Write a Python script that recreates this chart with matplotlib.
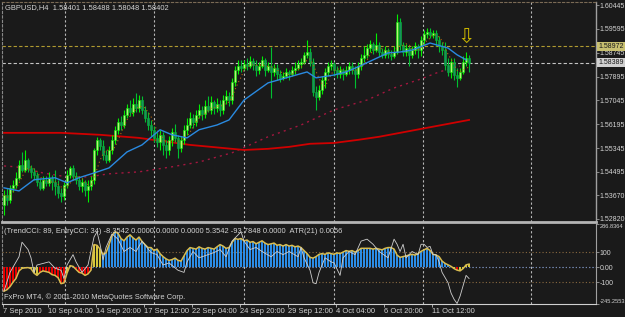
import matplotlib
matplotlib.use("Agg")
import matplotlib.pyplot as plt
import matplotlib.transforms as mtransforms
import numpy as np
import pandas as pd

plt.rcParams['font.family'] = ['Liberation Sans', 'DejaVu Sans']

# ---------------- data ----------------
header_text = "GBPUSD,H4  1.58401 1.58488 1.58048 1.58402"
indicator_text = "(TrendCCI: 89, EntryCCI: 34) -8.3542 0.0000 0.0000 0.0000 5.3542 -93.7848 0.0000  ATR(21) 0.0056"
copyright_text = "FxPro MT4, \u00a9 2001-2010 MetaQuotes Software Corp."

opens = [
    1.5332, 1.5368, 1.5350, 1.5393, 1.5404, 1.5429, 1.5475, 1.5457, 1.5492, 1.5464,
    1.5450, 1.5439, 1.5414, 1.5393, 1.5422, 1.5411, 1.5429, 1.5414, 1.5400, 1.5375,
    1.5365, 1.5404, 1.5439, 1.5464, 1.5436, 1.5422, 1.5400, 1.5414, 1.5386, 1.5400,
    1.5422, 1.5528, 1.5564, 1.5542, 1.5510, 1.5492, 1.5528, 1.5564, 1.5600, 1.5628,
    1.5617, 1.5653, 1.5678, 1.5664, 1.5692, 1.5678, 1.5706, 1.5671, 1.5642, 1.5617,
    1.5600, 1.5571, 1.5557, 1.5582, 1.5546, 1.5528, 1.5564, 1.5592, 1.5571, 1.5535,
    1.5564, 1.5600, 1.5617, 1.5642, 1.5628, 1.5653, 1.5671, 1.5656, 1.5685, 1.5671,
    1.5699, 1.5678, 1.5692, 1.5671, 1.5706, 1.5720, 1.5706, 1.5770, 1.5813, 1.5827,
    1.5820, 1.5834, 1.5827, 1.5845, 1.5831, 1.5813, 1.5827, 1.5849, 1.5813, 1.5827,
    1.5806, 1.5820, 1.5799, 1.5785, 1.5792, 1.5806, 1.5799, 1.5813, 1.5820, 1.5834,
    1.5842, 1.5867, 1.5877, 1.5842, 1.5735, 1.5717, 1.5742, 1.5777, 1.5806, 1.5827,
    1.5834, 1.5813, 1.5799, 1.5813, 1.5799, 1.5813, 1.5827, 1.5813, 1.5799, 1.5827,
    1.5856, 1.5867, 1.5891, 1.5906, 1.5884, 1.5902, 1.5877, 1.5867, 1.5884, 1.5870,
    1.5863, 1.5877, 1.5984, 1.5902, 1.5877, 1.5891, 1.5867, 1.5884, 1.5899, 1.5884,
    1.5920, 1.5941, 1.5948, 1.5938, 1.5945, 1.5920, 1.5899, 1.5884, 1.5831, 1.5806,
    1.5842, 1.5795, 1.5785, 1.5806, 1.5842, 1.5856,
]
highs = [
    1.5386, 1.5393, 1.5404, 1.5422, 1.5450, 1.5492, 1.5521, 1.5528, 1.5499, 1.5475,
    1.5464, 1.5450, 1.5429, 1.5436, 1.5436, 1.5450, 1.5439, 1.5457, 1.5422, 1.5393,
    1.5414, 1.5457, 1.5471, 1.5475, 1.5450, 1.5436, 1.5429, 1.5422, 1.5422, 1.5436,
    1.5535, 1.5575, 1.5571, 1.5564, 1.5528, 1.5542, 1.5582, 1.5614, 1.5642, 1.5649,
    1.5671, 1.5692, 1.5706, 1.5713, 1.5731, 1.5724, 1.5720, 1.5685, 1.5664, 1.5635,
    1.5614, 1.5592, 1.5600, 1.5592, 1.5564, 1.5578, 1.5607, 1.5621, 1.5582, 1.5578,
    1.5617, 1.5642, 1.5664, 1.5656, 1.5671, 1.5692, 1.5685, 1.5706, 1.5720, 1.5720,
    1.5706, 1.5713, 1.5706, 1.5724, 1.5742, 1.5735, 1.5785, 1.5827, 1.5849, 1.5849,
    1.5849, 1.5856, 1.5863, 1.5856, 1.5849, 1.5842, 1.5863, 1.5856, 1.5842, 1.5895,
    1.5834, 1.5834, 1.5813, 1.5806, 1.5820, 1.5813, 1.5827, 1.5842, 1.5849, 1.5856,
    1.5877, 1.5920, 1.5891, 1.5856, 1.5756, 1.5760, 1.5792, 1.5820, 1.5842, 1.5849,
    1.5842, 1.5827, 1.5827, 1.5820, 1.5827, 1.5842, 1.5842, 1.5827, 1.5842, 1.5870,
    1.5899, 1.5906, 1.5920, 1.5913, 1.5945, 1.5913, 1.5891, 1.5899, 1.5891, 1.5884,
    1.5899, 1.6012, 1.5998, 1.5913, 1.5906, 1.5899, 1.5899, 1.5913, 1.5906, 1.5934,
    1.5956, 1.5963, 1.5963, 1.5956, 1.5956, 1.5934, 1.5913, 1.5913, 1.5856, 1.5856,
    1.5856, 1.5820, 1.5820, 1.5863, 1.5877, 1.5867,
]
lows = [
    1.5297, 1.5332, 1.5340, 1.5379, 1.5393, 1.5422, 1.5450, 1.5450, 1.5450, 1.5429,
    1.5422, 1.5400, 1.5386, 1.5386, 1.5400, 1.5400, 1.5386, 1.5368, 1.5358, 1.5343,
    1.5350, 1.5393, 1.5429, 1.5422, 1.5407, 1.5386, 1.5379, 1.5365, 1.5343, 1.5386,
    1.5407, 1.5510, 1.5528, 1.5492, 1.5482, 1.5485, 1.5514, 1.5550, 1.5585, 1.5600,
    1.5607, 1.5642, 1.5649, 1.5649, 1.5664, 1.5664, 1.5656, 1.5628, 1.5600, 1.5578,
    1.5557, 1.5539, 1.5528, 1.5510, 1.5499, 1.5510, 1.5542, 1.5557, 1.5499, 1.5521,
    1.5550, 1.5582, 1.5607, 1.5607, 1.5614, 1.5642, 1.5635, 1.5642, 1.5664, 1.5656,
    1.5656, 1.5664, 1.5649, 1.5656, 1.5692, 1.5685, 1.5692, 1.5756, 1.5799, 1.5806,
    1.5813, 1.5813, 1.5820, 1.5813, 1.5792, 1.5799, 1.5820, 1.5792, 1.5806, 1.5713,
    1.5792, 1.5777, 1.5770, 1.5777, 1.5785, 1.5777, 1.5792, 1.5799, 1.5813, 1.5820,
    1.5834, 1.5856, 1.5827, 1.5720, 1.5671, 1.5706, 1.5728, 1.5749, 1.5792, 1.5813,
    1.5792, 1.5785, 1.5785, 1.5777, 1.5792, 1.5799, 1.5799, 1.5749, 1.5785, 1.5813,
    1.5842, 1.5856, 1.5877, 1.5870, 1.5877, 1.5863, 1.5856, 1.5856, 1.5856, 1.5849,
    1.5856, 1.5870, 1.5884, 1.5863, 1.5863, 1.5827, 1.5856, 1.5870, 1.5856, 1.5863,
    1.5906, 1.5927, 1.5927, 1.5927, 1.5899, 1.5877, 1.5867, 1.5813, 1.5792, 1.5785,
    1.5777, 1.5753, 1.5777, 1.5799, 1.5827, 1.5806,
]
closes = [
    1.5368, 1.5350, 1.5393, 1.5404, 1.5429, 1.5475, 1.5457, 1.5492, 1.5464, 1.5450,
    1.5439, 1.5414, 1.5393, 1.5422, 1.5411, 1.5429, 1.5414, 1.5400, 1.5375, 1.5365,
    1.5404, 1.5439, 1.5464, 1.5436, 1.5422, 1.5400, 1.5414, 1.5386, 1.5400, 1.5422,
    1.5528, 1.5564, 1.5542, 1.5510, 1.5492, 1.5528, 1.5564, 1.5600, 1.5628, 1.5617,
    1.5653, 1.5678, 1.5664, 1.5692, 1.5678, 1.5706, 1.5671, 1.5642, 1.5617, 1.5600,
    1.5571, 1.5557, 1.5582, 1.5546, 1.5528, 1.5564, 1.5592, 1.5571, 1.5535, 1.5564,
    1.5600, 1.5617, 1.5642, 1.5628, 1.5653, 1.5671, 1.5656, 1.5685, 1.5671, 1.5699,
    1.5678, 1.5692, 1.5671, 1.5706, 1.5720, 1.5706, 1.5770, 1.5813, 1.5827, 1.5820,
    1.5834, 1.5827, 1.5845, 1.5831, 1.5813, 1.5827, 1.5849, 1.5813, 1.5827, 1.5806,
    1.5820, 1.5799, 1.5785, 1.5792, 1.5806, 1.5799, 1.5813, 1.5820, 1.5834, 1.5842,
    1.5867, 1.5877, 1.5842, 1.5735, 1.5717, 1.5742, 1.5777, 1.5806, 1.5827, 1.5834,
    1.5813, 1.5799, 1.5813, 1.5799, 1.5813, 1.5827, 1.5813, 1.5799, 1.5827, 1.5856,
    1.5867, 1.5891, 1.5906, 1.5884, 1.5902, 1.5877, 1.5867, 1.5884, 1.5870, 1.5863,
    1.5877, 1.5984, 1.5902, 1.5877, 1.5891, 1.5867, 1.5884, 1.5899, 1.5884, 1.5920,
    1.5941, 1.5948, 1.5938, 1.5945, 1.5920, 1.5899, 1.5884, 1.5831, 1.5806, 1.5842,
    1.5795, 1.5785, 1.5806, 1.5842, 1.5856, 1.5839,
]

# moving averages (bar index, price)
blue_ma_bars = [0, 5, 10, 17, 21, 25, 30, 35, 41, 46, 52, 56, 61, 65, 71, 75, 80, 88,
                95, 101, 104, 110, 114, 118, 123, 128, 132, 136, 142, 148, 151, 154]
blue_ma_vals = [1.5393, 1.5382, 1.5422, 1.5429, 1.5411, 1.5429, 1.5446, 1.5464, 1.5521,
                1.5546, 1.5600, 1.5582, 1.5571, 1.5600, 1.5617, 1.5635, 1.5706, 1.5767,
                1.5788, 1.5806, 1.5785, 1.5795, 1.5806, 1.5824, 1.5849, 1.5874, 1.5877,
                1.5884, 1.5909, 1.5891, 1.5867, 1.5849]
red_ma_bars = [0, 19, 32, 45, 62, 80, 88, 95, 102, 110, 118, 125, 132, 139, 155]
red_ma_vals = [1.5589, 1.5589, 1.5582, 1.5571, 1.5546, 1.5528, 1.5532, 1.5539, 1.5550,
               1.5553, 1.5564, 1.5575, 1.5589, 1.5603, 1.5635]
slow_ma_bars = [0, 4, 13, 21, 28, 35, 45, 56, 65, 76, 88, 99, 110, 121, 130, 139, 145, 152]
slow_ma_vals = [1.5471, 1.5468, 1.5446, 1.5432, 1.5432, 1.5443, 1.5450, 1.5468, 1.5485,
                1.5518, 1.5575, 1.5617, 1.5671, 1.5706, 1.5749, 1.5781, 1.5806, 1.5827]

price_ticks = [1.60445, 1.59595, 1.58745, 1.57895, 1.57045, 1.56195, 1.55345,
               1.54495, 1.53670, 1.52820]
level_line_price = 1.58972
bid_price = 1.58389

trend_cci = [
    -160, -150, -130, -100, -75, -25, -8, -5, -3, -10,
    -40, -55, -35, -25, -30, -35, -50, -55, -70, -110,
    -105, -40, 10, 5, -15, -35, -40, -55, -45, -20,
    150, 145, 120, 85, 95, 150, 210, 235, 225, 190,
    175, 200, 215, 195, 180, 200, 170, 150, 130, 130,
    110, 120, 90, 70, 55, 45, 50, 60, 45, 40,
    75, 110, 130, 125, 120, 135, 125, 120, 130, 125,
    120, 135, 150, 140, 125, 130, 165, 190, 185, 190,
    175, 180, 165, 170, 155, 165, 175, 160, 150, 155,
    160, 145, 150, 140, 150, 140, 145, 135, 140, 130,
    110, 90, 65, 60, 70, 85, 90, 85, 95, 90,
    85, 95, 90, 100, 110, 105, 110, 100, 110, 125,
    125, 125, 125, 120, 125, 120, 115, 125, 130, 130,
    120, 80, 65, 70, 75, 80, 85, 80, 90, 105,
    115, 125, 110, 85, 80, 70, 40, 25, 15, 5,
    -10, -20, -25, -10, 15, 20,
]
trend_state_runs = [('R', 6), ('Y', 6), ('R', 9), ('Y', 3), ('R', 6), ('Y', 3),
                    ('B', 117), ('Y', 1), ('R', 1), ('Y', 4)]

entry_bars = [0, 2, 5, 6, 8, 9, 10, 11, 15, 17, 19, 20, 21, 23, 24, 26, 28, 30, 31, 32,
              33, 34, 36, 38, 40, 42, 44, 46, 49, 51, 53, 55, 58, 60, 61, 63, 65, 68, 70,
              72, 74, 76, 79, 80, 82, 84, 86, 89, 91, 93, 95, 98, 99, 100, 102, 103, 104,
              105, 107, 109, 110, 112, 113, 114, 115, 117, 119, 121, 123, 125, 128, 130,
              131, 132, 133, 134, 135, 136, 138, 139, 140, 141, 142, 143, 144, 145, 146,
              148, 149, 150, 151, 152, 153, 154, 155]
entry_cci = [-159, -35, 69, 166, 117, 62, -35, 14, 35, -7, -21, -76, 14, 83, 35, -35, 14,
             200, 235, 152, 48, 131, 221, 186, 104, 131, 104, 173, 97, 83, 14, 28, -21,
             -35, 35, 104, 62, 83, 97, 117, 69, 173, 235, 173, 117, 131, 104, 69, 104, 83,
             104, 69, 131, 62, -21, -104, -110, -35, 62, 35, 28, -55, 62, 83, 104, 83,
             173, 186, 152, 104, 62, 186, 152, 104, 152, 62, 83, 104, 83, 152, 152, 131,
             138, 83, 83, 35, -35, -104, -173, -214, -242, -193, -124, -55, -76]

cci_ticks = [286.8364, 100, 0, -100, -245.2553]
cci_tick_labels = ["286.8364", "100", "0.00", "-100", "-245.2553"]

date_labels = ['7 Sep 2010', '10 Sep 04:00', '14 Sep 20:00', '17 Sep 12:00',
               '22 Sep 04:00', '24 Sep 20:00', '29 Sep 12:00', '4 Oct 04:00',
               '6 Oct 20:00', '11 Oct 12:00']
date_label_bars = [0, 15, 31, 47, 63, 79, 95, 111, 127, 143]
week_start_bars = [20.3, 50, 80, 110, 139.7, 175.7]

# ---------------- style ----------------
BG = '#1a1a1a'
TXT = '#d4d4d4'
FS = 5.4
FS_AX = 5.0
W, H = 625, 317

fig = plt.figure(figsize=(W / 100, H / 100), dpi=100, facecolor=BG)
ax = fig.add_axes([2 / W, 1 - 222 / H, 594 / W, 220 / H], facecolor=BG)
ax2 = fig.add_axes([2 / W, 1 - 304 / H, 594 / W, 80 / H], facecolor=BG, sharex=ax)

idx = np.arange(len(closes))
o = np.array(opens); h = np.array(highs); l = np.array(lows); c = np.array(closes)
up = c >= o

# grid (week separators)
for a in (ax, ax2):
    for b in week_start_bars:
        a.axvline(b, color='#b8b8b8', lw=0.8, ls=(0, (2, 2)), zorder=0)

# moving averages
fast_ma = pd.Series(c).rolling(5, min_periods=1).mean()
ax.plot(slow_ma_bars, slow_ma_vals, color='#a3173f', lw=1.0, ls=(0, (1.5, 3)), zorder=1)
ax.plot(red_ma_bars, red_ma_vals, color='#d00000', lw=1.3, zorder=1)
ax.plot(idx, fast_ma, color='#b8660b', lw=0.8, ls=(0, (1, 2.5)), zorder=3)
ax.plot(blue_ma_bars, blue_ma_vals, color='#2a8ae0', lw=1.0, zorder=4)

# candles
wick_cols = np.where(up, '#00f000', '#00c030')
ax.vlines(idx, l, h, colors=wick_cols, lw=0.8, zorder=2)
body_cols = np.where(up, '#b4f57a', '#1a9060')
ax.bar(idx, np.abs(c - o), bottom=np.minimum(o, c), width=0.66, color=body_cols,
       edgecolor=wick_cols, linewidth=0.4, zorder=2.5)

# horizontal price lines
ax.axhline(level_line_price, color='#b09a30', lw=0.8, ls=(0, (3, 2)), zorder=1)
ax.axhline(bid_price, color='#c4c4c4', lw=0.8, ls=(0, (3, 2)), zorder=1)

# arrow above recent bar
ax.annotate('\u21e9', xy=(idx[-2], highs[-2]), xytext=(0, 4), textcoords='offset points',
            ha='center', va='bottom', fontsize=15, color='#c8b400', family='DejaVu Sans',
            zorder=6)

ax.set_xlim(-0.67, 197.3)
ax.set_ylim(1.52713, 1.60552)

# right axis of price panel
ax.yaxis.tick_right()
ax.set_yticks(price_ticks)
ax.set_yticklabels([f"{p:.5f}" for p in price_ticks])
ax.tick_params(axis='y', colors='#9a9a9a', labelcolor=TXT, labelsize=FS_AX, length=2,
               width=0.6, pad=0.6, direction='out')
ax.tick_params(axis='x', bottom=False, labelbottom=False)

trans = mtransforms.blended_transform_factory(ax.transAxes, ax.transData)
ax.text(1.004, level_line_price, f"{level_line_price:.5f}", transform=trans, ha='left',
        va='center', fontsize=FS_AX, color='#1a1a1a', clip_on=False, zorder=10,
        bbox=dict(facecolor='#c8c070', edgecolor='none', pad=0.7))
ax.text(1.004, bid_price, f"{bid_price:.5f}", transform=trans, ha='left',
        va='center', fontsize=FS_AX, color='#1a1a1a', clip_on=False, zorder=10,
        bbox=dict(facecolor='#d0d0d0', edgecolor='none', pad=0.7))

ax.text(0.005, 0.975, header_text, transform=ax.transAxes, ha='left', va='center',
        fontsize=FS, color=TXT)

for s in ax.spines.values():
    s.set_color('#9a9a9a')
ax.spines['top'].set_color('#7a6a55'); ax.spines['top'].set_linestyle((0, (2, 2)))
ax.spines['left'].set_color('#888888'); ax.spines['left'].set_linestyle((0, (2, 2)))
ax.spines['bottom'].set_color('#b4b4b4'); ax.spines['bottom'].set_linewidth(2.0)
ax.spines['right'].set_color('#a0a0a0'); ax.spines['right'].set_linewidth(1.0)

# ---------------- CCI panel ----------------
state_colors = {'R': '#e80000', 'Y': '#d6c63a', 'B': '#2b8ce6'}
bar_colors = [state_colors[s] for s, n in trend_state_runs for _ in range(n)]
ax2.bar(idx, trend_cci, width=0.68, color=bar_colors, linewidth=0, zorder=2)
ax2.plot(idx, trend_cci, color='#d8bc50', lw=1.1, zorder=3)
ax2.plot(entry_bars, entry_cci, color='#cfcfcf', lw=0.6, zorder=4)

ax2.axhline(100, color='#8a6a40', lw=0.8, ls=(0, (1, 2)), zorder=1)
ax2.axhline(0, color='#5a80a8', lw=0.8, ls=(0, (1, 2)), zorder=1)
ax2.axhline(-100, color='#8a6a40', lw=0.8, ls=(0, (1, 2)), zorder=1)
ax2.axhline(y=0.93, xmin=0, xmax=1, color='#7a88b0', lw=0.8, ls=(0, (1, 2)), zorder=1)

ax2.set_ylim(cci_ticks[-1], cci_ticks[0])
ax2.yaxis.tick_right()
ax2.set_yticks(cci_ticks)
ax2.set_yticklabels(cci_tick_labels)
ax2.tick_params(axis='y', colors='#9a9a9a', labelcolor=TXT, labelsize=FS_AX, length=2,
                width=0.6, pad=0.6)
yl = ax2.get_yticklabels()
yl[0].set_va('top'); yl[0].set_fontsize(4.1)
yl[-1].set_va('bottom'); yl[-1].set_fontsize(4.1)

ax2.set_xticks([b - 0.5 for b in date_label_bars])
ax2.set_xticklabels(date_labels, ha='left')
ax2.tick_params(axis='x', colors='#c0c0c0', labelcolor=TXT, labelsize=FS, length=2,
                width=0.6, pad=0.8)

ax2.text(0.003, 0.91, indicator_text, transform=ax2.transAxes, ha='left', va='center',
         fontsize=FS, color=TXT)
ax2.text(0.003, 0.09, copyright_text, transform=ax2.transAxes, ha='left', va='center',
         fontsize=FS, color=TXT)

ax2.spines['top'].set_visible(False)
ax2.spines['left'].set_color('#888888'); ax2.spines['left'].set_linestyle((0, (2, 2)))
ax2.spines['right'].set_color('#a0a0a0')
ax2.spines['bottom'].set_color('#d0d0d0')

fig.savefig('out.png', dpi=100, facecolor=BG)
